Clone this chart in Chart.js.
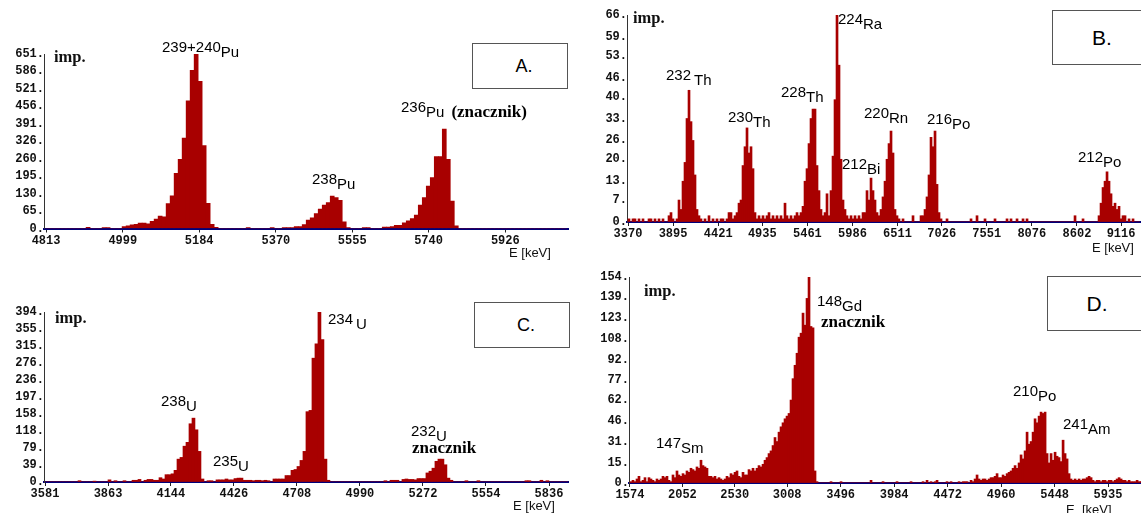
<!DOCTYPE html>
<html>
<head>
<meta charset="utf-8">
<script src="https://cdn.jsdelivr.net/npm/chart.js@4.4.1/dist/chart.umd.min.js"></script>
<style>
  html, body { margin: 0; padding: 0; background: #fff; }
  #page { position: relative; width: 1141px; height: 513px; overflow: hidden; }
  canvas { position: absolute; left: 0; top: 0; pointer-events: none; }
  .iso { position: absolute; font: 15px "Liberation Sans", Arial, sans-serif; line-height: 15px; color: #000; white-space: nowrap; }
  .iso .el { position: relative; top: 5px; }
  .zn { font: bold 17px "Liberation Serif", "Times New Roman", serif; line-height: 17px; }
  .iso .zn { margin-left: 7px; }
  .note { position: absolute; white-space: nowrap; color: #000; }
  .imp { position: absolute; font: bold 16.5px "Liberation Serif", "Times New Roman", serif; line-height: 16px; color: #111; }
  .unit { position: absolute; font: 13px "Liberation Sans", Arial, sans-serif; line-height: 13px; color: #111; white-space: pre; }
  .box { position: absolute; border: 1px solid #555; background: #fff; display: flex; align-items: center; justify-content: center; font-family: "Liberation Sans", Arial, sans-serif; color: #000; box-sizing: border-box; }
</style>
</head>
<body>
<div id="page">
  <canvas id="chartA" width="1141" height="513"></canvas>
  <canvas id="chartB" width="1141" height="513"></canvas>
  <canvas id="chartC" width="1141" height="513"></canvas>
  <canvas id="chartD" width="1141" height="513"></canvas>
</div>
<script>
// --- A: Pu (channel start 4813 keV, 9.7 keV per channel)
const aStart = 4813, aWidth = 9.7;
const aCounts = [
  0, 0, 0, 0, 0, 0, 0, 0, 0, 0,
  4, 0, 0, 0, 3, 3, 0, 0, 0, 7,
  10, 14, 16, 20, 20, 17, 27, 35, 46, 44,
  93, 122, 206, 258, 337, 476, 590, 651, 549, 309,
  94, 16, 4, 0, 0, 0, 0, 0, 0, 0,
  3, 0, 0, 0, 0, 0, 3, 0, 0, 3,
  3, 3, 7, 7, 15, 31, 40, 56, 72, 87,
  97, 121, 115, 105, 25, 3, 0, 0, 0, 3,
  3, 0, 0, 0, 5, 5, 7, 12, 12, 21,
  29, 37, 50, 87, 115, 158, 190, 268, 268, 371,
  258, 102, 10, 0, 0, 0, 0, 0, 0, 0,
  0, 0, 0, 0, 0, 0, 0, 0, 0, 0,
  0, 0, 0, 0, 0, 0, 0, 0, 0, 0
];
const aXTicks = [4813, 4999, 5184, 5370, 5555, 5740, 5926];
const aYTicks = [0, 65, 130, 195, 260, 326, 391, 456, 521, 586, 651];

// --- B: Th series (channel start 3370 keV, 23.3 keV per channel)
const bStart = 3370, bWidth = 23.31;
const bCounts = [
  1, 0, 1, 1, 0, 1, 0, 1, 0, 0,
  1, 1, 0, 1, 0, 1, 0, 1, 0, 0,
  2, 3, 1, 0, 1, 7, 4, 13, 19, 33,
  42, 32, 26, 15, 4, 2, 1, 0, 1, 0,
  2, 0, 1, 0, 1, 0, 1, 1, 0, 1,
  3, 3, 1, 2, 3, 6, 7, 18, 24, 30,
  22, 24, 17, 3, 1, 2, 1, 2, 1, 2,
  3, 1, 2, 1, 2, 1, 2, 1, 6, 2,
  1, 2, 1, 2, 3, 2, 3, 5, 13, 17,
  25, 33, 36, 36, 18, 10, 4, 2, 3, 9,
  2, 10, 21, 39, 66, 50, 20, 7, 4, 2,
  1, 2, 1, 2, 1, 2, 1, 3, 3, 10,
  7, 14, 10, 7, 3, 2, 4, 8, 13, 20,
  25, 29, 22, 4, 2, 1, 0, 1, 0, 0,
  0, 0, 2, 0, 0, 0, 2, 2, 4, 8,
  15, 27, 24, 29, 12, 3, 1, 0, 0, 1,
  0, 0, 0, 0, 0, 0, 0, 0, 0, 0,
  0, 1, 0, 0, 2, 0, 0, 0, 1, 0,
  0, 0, 0, 1, 0, 0, 0, 0, 0, 1,
  0, 1, 0, 0, 1, 0, 0, 1, 0, 1,
  0, 0, 0, 0, 0, 0, 0, 0, 0, 0,
  0, 0, 0, 0, 0, 0, 0, 0, 0, 0,
  0, 0, 0, 2, 0, 0, 0, 1, 0, 0,
  0, 0, 0, 0, 0, 2, 6, 11, 13, 16,
  13, 9, 5, 6, 4, 5, 1, 2, 2, 0,
  1, 0, 1, 0, 0, 0
];
const bXTicks = [3370, 3895, 4421, 4935, 5461, 5986, 6511, 7026, 7551, 8076, 8602, 9116];
const bYTicks = [0, 7, 13, 20, 26, 33, 40, 46, 53, 59, 66];

// --- C: U (channel start 3581 keV, 13.4 keV per channel)
const cStart = 3581, cWidth = 13.42;
const cCounts = [
  0, 0, 0, 0, 0, 0, 0, 0, 0, 0,
  0, 3, 0, 0, 0, 0, 2, 0, 0, 0,
  0, 5, 0, 3, 0, 0, 3, 0, 0, 4,
  4, 6, 0, 4, 6, 6, 4, 4, 10, 7,
  17, 17, 19, 27, 53, 57, 83, 92, 135, 148,
  121, 71, 7, 0, 3, 3, 0, 5, 5, 5,
  7, 5, 5, 8, 9, 9, 4, 4, 4, 3,
  4, 4, 3, 4, 3, 0, 7, 7, 7, 7,
  15, 15, 27, 29, 36, 50, 71, 163, 166, 287,
  320, 394, 330, 53, 4, 0, 0, 0, 0, 0,
  0, 0, 0, 0, 0, 0, 0, 0, 0, 0,
  0, 0, 0, 3, 0, 4, 4, 4, 0, 6,
  7, 6, 6, 5, 8, 8, 8, 21, 25, 32,
  48, 53, 53, 40, 9, 4, 0, 0, 0, 0,
  3, 0, 0, 0, 3, 0, 0, 0, 0, 0,
  0, 0, 0, 0, 0, 0, 0, 0, 0, 0,
  3, 3, 0, 0, 0, 4, 0, 3, 0, 0,
  0, 0, 0, 0, 0
];
const cXTicks = [3581, 3863, 4144, 4426, 4708, 4990, 5272, 5554, 5836];
const cYTicks = [0, 39, 79, 118, 158, 197, 236, 276, 315, 355, 394];

// --- D: Gd / Po / Am (channel start 1574 keV, 18.25 keV per channel)
const dStart = 1574, dWidth = 18.25;
const dCounts = [
  1, 2, 1, 3, 5, 1, 2, 4, 1, 4,
  3, 2, 1, 3, 2, 3, 5, 4, 5, 2,
  1, 6, 4, 9, 6, 5, 7, 6, 9, 8,
  11, 10, 9, 12, 11, 17, 13, 12, 11, 5,
  5, 4, 5, 3, 4, 3, 2, 3, 5, 4,
  7, 6, 8, 9, 5, 4, 8, 6, 6, 10,
  9, 11, 9, 11, 13, 12, 14, 17, 19, 22,
  24, 28, 34, 31, 38, 42, 45, 48, 50, 52,
  62, 78, 88, 97, 109, 112, 127, 118, 138, 154,
  117, 116, 9, 1, 0, 0, 0, 0, 0, 0,
  1, 0, 0, 0, 0, 1, 0, 0, 0, 0,
  0, 0, 0, 0, 0, 0, 0, 0, 0, 0,
  2, 0, 0, 0, 0, 0, 1, 0, 0, 0,
  0, 0, 0, 1, 0, 0, 0, 0, 0, 0,
  1, 0, 0, 0, 0, 0, 1, 0, 2, 0,
  1, 0, 1, 2, 0, 0, 0, 0, 1, 0,
  1, 0, 0, 0, 1, 0, 1, 1, 1, 0,
  2, 1, 3, 6, 3, 2, 3, 3, 2, 3,
  4, 4, 5, 7, 4, 4, 6, 5, 7, 8,
  9, 11, 13, 11, 15, 21, 18, 24, 38, 29,
  31, 38, 48, 45, 50, 53, 52, 53, 22, 15,
  22, 17, 23, 20, 19, 16, 32, 22, 18, 7,
  3, 2, 3, 2, 3, 2, 3, 3, 4, 5,
  4, 2, 1, 2, 2, 1, 2, 2, 1, 2,
  2, 1, 2, 3, 4, 3, 2, 2, 1, 2,
  1, 1, 1, 2, 1, 1
];
const dXTicks = [1574, 2052, 2530, 3008, 3496, 3984, 4472, 4960, 5448, 5935];
const dYTicks = [0, 15, 31, 46, 62, 77, 92, 108, 123, 139, 154];

// isotope labels: [left, top of digits, mass number, element]
const aIsotopes = [[162, 41, '239+240', 'Pu'], [312, 173, '238', 'Pu'], [401, 100, '236', 'Pu', '(znacznik)']];
const bIsotopes = [[666, 69, '232', '\u2009Th'], [728, 111, '230', 'Th'], [781, 86, '228', 'Th'], [838, 13, '224', 'Ra'],
                   [842, 158, '212', 'Bi'], [864, 107, '220', 'Rn'], [927, 113, '216', 'Po'], [1078, 151, '212', 'Po']];
const cIsotopes = [[161, 395, '238', 'U'], [213, 455, '235', 'U'], [328, 313, '234', '\u2009U'], [411, 425, '232', 'U']];
const dIsotopes = [[656, 437, '147', 'Sm'], [817, 295, '148', 'Gd'], [1013, 385, '210', 'Po'], [1063, 418, '241', 'Am']];

const BAR = '#a80000';
const TICK_FONT = { family: '"Liberation Mono", "DejaVu Sans Mono", monospace', size: 12, weight: 'bold' };
const Y_W = 44, X_H = 22;

function spectrum(id, p) {
    const ctx = document.getElementById(id).getContext('2d');
    new Chart(ctx, {
        type: 'bar',
        data: {
            datasets: [{
                data: p.counts.map((c, i) => ({ x: p.start + (i + 0.5) * p.width, y: c })),
                backgroundColor: BAR,
                borderWidth: 0,
                barPercentage: 1,
                categoryPercentage: 1
            }]
        },
        options: {
            responsive: false,
            animation: false,
            devicePixelRatio: 1,
            layout: {
                padding: {
                    left: p.area[0] - Y_W,
                    top: p.area[1],
                    right: 1141 - p.area[2],
                    bottom: 513 - p.area[3] - X_H
                }
            },
            plugins: { legend: { display: false }, tooltip: { enabled: false } },
            scales: {
                x: {
                    type: 'linear', min: p.min, max: p.max, offset: false, z: 1,
                    afterBuildTicks: s => { s.ticks = p.xTicks.map(v => ({ value: v })) },
                    afterFit: s => { s.height = X_H },
                    grid: { offset: false, drawOnChartArea: false, drawTicks: true, tickLength: 4, color: '#222' },
                    border: { color: '#00007a', width: 2 },
                    ticks: { autoSkip: false, maxRotation: 0, padding: 1, color: '#111', font: TICK_FONT, callback: v => String(v) }
                },
                y: {
                    min: 0, max: p.yTicks[p.yTicks.length - 1],
                    afterBuildTicks: s => { s.ticks = p.yTicks.map(v => ({ value: v })) },
                    afterFit: s => { s.width = Y_W },
                    grid: { drawOnChartArea: false, drawTicks: false },
                    border: { color: '#333', width: 1 },
                    ticks: { autoSkip: false, padding: 0, color: '#111', font: TICK_FONT, callback: v => v + '.' }
                }
            }
        }
    });
}

spectrum('chartA', { counts: aCounts, start: aStart, width: aWidth, xTicks: aXTicks, yTicks: aYTicks, min: 4808, max: 6078, area: [44, 54, 568, 228.5] });
spectrum('chartB', { counts: bCounts, start: bStart, width: bWidth, xTicks: bXTicks, yTicks: bYTicks, min: 3358.3, max: 9337, area: [627, 15, 1140, 222] });
spectrum('chartC', { counts: cCounts, start: cStart, width: cWidth, xTicks: cXTicks, yTicks: cYTicks, min: 3576.5, max: 5921, area: [44, 312, 568, 482] });
spectrum('chartD', { counts: dCounts, start: dStart, width: dWidth, xTicks: dXTicks, yTicks: dYTicks, min: 1565, max: 6236, area: [629, 277, 1141, 483] });

// text overlays
const page = document.getElementById('page');
function add(cls, left, top, html) {
    const el = document.createElement('div');
    el.className = cls;
    el.style.left = left + 'px';
    el.style.top = top + 'px';
    el.innerHTML = html;
    page.appendChild(el);
    return el;
}
[aIsotopes, bIsotopes, cIsotopes, dIsotopes].forEach(list => list.forEach(([x, y, mass, sym, extra]) => {
    add('iso', x, y - 2, mass + '<span class="el">' + sym + (extra ? '<span class="zn">' + extra + '</span>' : '') + '</span>');
}));
add('note zn', 412, 439, 'znacznik');
add('note zn', 821, 313, 'znacznik');

add('imp', 54, 49, 'imp.');
add('imp', 633, 10, 'imp.');
add('imp', 55, 310, 'imp.');
add('imp', 644, 283, 'imp.');

add('unit', 509, 246, 'E [keV]');
add('unit', 1092, 241, 'E [keV]');
add('unit', 513, 499, 'E [keV]');
add('unit', 1066, 503, 'E  [keV]');

const boxes = [[472, 43, 96, 46, 18, 'A.'], [1052, 10, 100, 55, 21, 'B.'], [474, 302, 96, 46, 18, 'C.'], [1047, 276, 100, 55, 21, 'D.']];
boxes.forEach(([x, y, w, h, size, txt]) => {
    const b = add('box', x, y, txt);
    b.style.width = w + 'px';
    b.style.height = h + 'px';
    b.style.fontSize = size + 'px';
    if (w < 100) b.style.paddingLeft = '8px';
});
</script>
</body>
</html>
